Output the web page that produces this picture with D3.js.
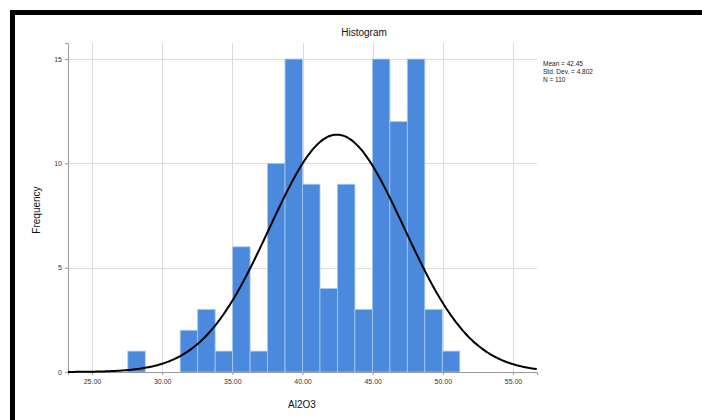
<!DOCTYPE html>
<html>
<head>
  <script src="https://d3js.org/d3.v7.min.js"></script>
  <style>
    body { margin: 0; background: white; }
    svg { display: block; font-family: "Liberation Sans", Arial, sans-serif; }
  </style>
</head>
<body>
  <svg width="702" height="420"></svg>
  <script>
  // histogram counts per bin, left to right
  const counts = [1, 0, 0, 2, 3, 1, 6, 1, 10, 15, 9, 4, 9, 3, 15, 12, 15, 3, 1];
  const binStart = 27.55;
  const binWidth = 1.245;
  const xTicks = [25, 30, 35, 40, 45, 50, 55];
  const yTicks = [0, 5, 10, 15];
  const meanVal = 42.45;
  const sdVal = 4.802;
  const nVal = 110;
  const statLines = ["Mean = 42.45", "Std. Dev. = 4.802", "N = 110"];

  const svg = d3.select("svg");

  // frame
  svg.append("path")
    .attr("d", "M12.5,430 V12.5 H720")
    .attr("fill", "none")
    .attr("stroke", "#000")
    .attr("stroke-width", 5);

  const x = d3.scaleLinear().domain([23.29, 56.71]).range([68, 537]);
  const y = d3.scaleLinear().domain([0, 15.77]).range([372, 43]);

  // grid
  const grid = svg.append("g").attr("stroke", "#dcdcdc").attr("stroke-width", 1);
  grid.selectAll(".vg").data(xTicks).enter().append("line")
    .attr("x1", d => Math.round(x(d)) + 0.5).attr("x2", d => Math.round(x(d)) + 0.5)
    .attr("y1", y.range()[1]).attr("y2", y(0));
  grid.selectAll(".hg").data(yTicks.filter(d => d > 0)).enter().append("line")
    .attr("x1", x.range()[0]).attr("x2", x.range()[1])
    .attr("y1", d => Math.round(y(d)) + 0.5).attr("y2", d => Math.round(y(d)) + 0.5);

  // bars
  const bins = counts.map((c, i) => ({ x0: binStart + i * binWidth, x1: binStart + (i + 1) * binWidth, c }));
  svg.append("g").selectAll("rect").data(bins.filter(b => b.c > 0)).enter().append("rect")
    .attr("x", d => x(d.x0))
    .attr("width", d => x(d.x1) - x(d.x0))
    .attr("y", d => y(d.c))
    .attr("height", d => y(0) - y(d.c))
    .attr("fill", "#4a89dc")
    .attr("stroke", "#a9c8f0")
    .attr("stroke-width", 0.8);

  // axes
  const xAxis = svg.append("g").attr("transform", `translate(0,${y(0)})`)
    .call(d3.axisBottom(x).tickValues(xTicks).tickFormat(d3.format(".2f")).tickSize(3));
  const yAxis = svg.append("g").attr("transform", `translate(${x.range()[0]},0)`)
    .call(d3.axisLeft(y).tickValues(yTicks).tickSize(3));
  [xAxis, yAxis].forEach(a => {
    a.select(".domain").attr("stroke", "#9a9a9a");
    a.selectAll(".tick line").attr("stroke", "#9a9a9a");
    a.selectAll("text").attr("font-size", 7).attr("fill", "#333").attr("font-family", "Liberation Sans, Arial");
  });
  xAxis.selectAll("text").attr("dy", "0.9em");

  // normal curve
  const curvePts = d3.range(x.domain()[0], x.domain()[1] + 0.01, 0.1).map(v => {
    const z = (v - meanVal) / sdVal;
    return [v, nVal * binWidth * Math.exp(-0.5 * z * z) / (sdVal * Math.sqrt(2 * Math.PI))];
  });
  svg.append("path")
    .datum(curvePts)
    .attr("fill", "none")
    .attr("stroke", "#000")
    .attr("stroke-width", 2)
    .attr("d", d3.line().x(d => x(d[0])).y(d => y(d[1])).curve(d3.curveBasis));

  // titles
  svg.append("text").attr("x", 364).attr("y", 36).attr("text-anchor", "middle")
    .attr("font-size", 10).attr("fill", "#111").text("Histogram");
  svg.append("text").attr("x", 302).attr("y", 408).attr("text-anchor", "middle")
    .attr("font-size", 10).attr("fill", "#111").text("Al2O3");
  svg.append("text").attr("transform", "translate(40,210) rotate(-90)").attr("text-anchor", "middle")
    .attr("font-size", 10).attr("fill", "#111").text("Frequency");

  // stats box
  svg.append("g").selectAll("text").data(statLines).enter().append("text")
    .attr("x", 543).attr("y", (d, i) => 66 + i * 8)
    .attr("font-size", 6.5).attr("fill", "#222")
    .text(d => d);
  </script>
</body>
</html>
